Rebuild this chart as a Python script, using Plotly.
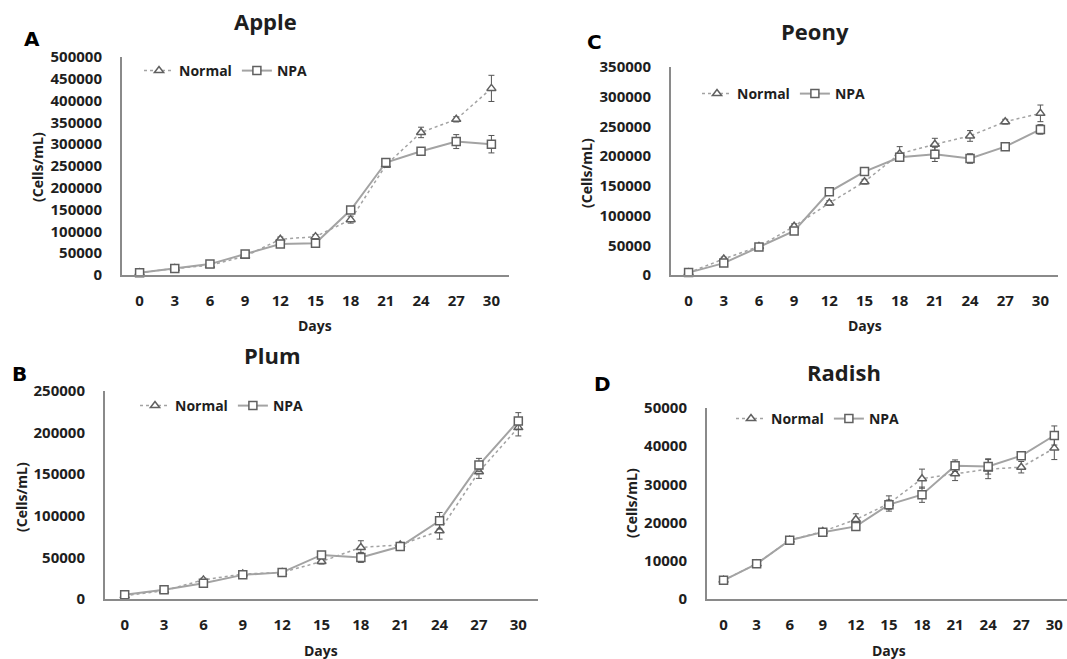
import plotly.graph_objects as go

W, H = 1067, 659

days = [0, 3, 6, 9, 12, 15, 18, 21, 24, 27, 30]

apple_normal = [5000, 15000, 22000, 43000, 82000, 88000, 127000, 252000, 327000, 357000, 428000]
apple_normal_err = [1000, 2000, 3000, 4000, 5000, 5000, 8000, 5000, 12000, 6000, 30000]
apple_npa = [5000, 15000, 25000, 48000, 71000, 73000, 149000, 258000, 284000, 306000, 300000]
apple_npa_err = [1000, 2000, 3000, 4000, 5000, 5000, 8000, 6000, 8000, 16000, 20000]

peony_normal = [4000, 27000, 48000, 82000, 121000, 157000, 204000, 220000, 234000, 258000, 272000]
peony_normal_err = [1000, 3000, 2000, 4000, 4000, 4000, 12000, 10000, 9000, 4000, 14000]
peony_npa = [4000, 20000, 47000, 74000, 140000, 174000, 198000, 203000, 196000, 216000, 245000]
peony_npa_err = [1000, 3000, 2000, 3000, 4000, 4000, 6000, 12000, 8000, 4000, 8000]

plum_normal = [4000, 10000, 23000, 30000, 32000, 45000, 62000, 65000, 82000, 153000, 206000]
plum_normal_err = [1000, 1500, 2000, 2000, 2000, 3000, 8000, 3000, 10000, 8000, 10000]
plum_npa = [5000, 11000, 19000, 29000, 32000, 53000, 50000, 63000, 94000, 161000, 214000]
plum_npa_err = [1000, 1500, 2000, 2000, 2000, 3000, 6000, 3000, 10000, 8000, 10000]

radish_normal = [4900, 9200, 15400, 17700, 20800, 25000, 31500, 32800, 34000, 34500, 39500]
radish_normal_err = [300, 400, 400, 500, 1500, 2000, 2500, 1800, 2500, 1500, 3000]
radish_npa = [4900, 9200, 15400, 17500, 19000, 24700, 27300, 34900, 34700, 37500, 42800]
radish_npa_err = [300, 400, 400, 500, 800, 1200, 2000, 1500, 2000, 800, 2500]

titles = ["Apple", "Peony", "Plum", "Radish"]
letters = ["A", "C", "B", "D"]
series_names = ["Normal", "NPA"]
y_max = [500000, 350000, 250000, 50000]
y_step = [50000, 50000, 50000, 10000]
x_title = "Days"
y_title = "(Cells/mL)"


def px(x):
    return x / W


def py(y):
    return 1 - y / H


# panel layout in pixels
panels = [
    dict(x0=122, x1=509, xr=31.5, yt=57, yb=275, title=(265, 21), letter=(32, 39), legend=(139, 71),
         ytitle=(38, 167), xtitle=(315, 325)),
    dict(x0=671, x1=1058, xr=31.5, yt=67, yb=275, title=(815, 31), letter=(594, 42), legend=(697, 94),
         ytitle=(587, 173), xtitle=(865, 325)),
    dict(x0=105, x1=538, xr=31.5, yt=391, yb=599, title=(272, 355), letter=(19, 374), legend=(135, 406),
         ytitle=(21, 497), xtitle=(321, 650)),
    dict(x0=707, x1=1067, xr=31.15, yt=408, yb=599, title=(844, 372), letter=(602, 384), legend=(731, 419),
         ytitle=(631, 503), xtitle=(889, 650)),
]

data = [
    (apple_normal, apple_normal_err, apple_npa, apple_npa_err),
    (peony_normal, peony_normal_err, peony_npa, peony_npa_err),
    (plum_normal, plum_normal_err, plum_npa, plum_npa_err),
    (radish_normal, radish_normal_err, radish_npa, radish_npa_err),
]

FONT = "Open Sans"
TXT = "#1e1e1e"
LINE = "#a3a3a3"
MARK = "#606060"
ERR = "#555555"

fig = go.Figure()
layout = dict(
    width=W, height=H,
    margin=dict(l=0, r=0, t=0, b=0, pad=0, autoexpand=False),
    paper_bgcolor="white", plot_bgcolor="white",
    font=dict(family=FONT, color=TXT, size=14),
    annotations=[],
    hovermode=False,
)

for i, (p, d) in enumerate(zip(panels, data)):
    n = i + 1
    xa = "x" if n == 1 else f"x{n}"
    ya = "y" if n == 1 else f"y{n}"
    lg = "legend" if n == 1 else f"legend{n}"
    nv, ne, av, ae = d
    fig.add_trace(go.Scatter(
        x=days, y=nv, name=series_names[0], mode="lines+markers",
        xaxis=xa, yaxis=ya, legend=lg, cliponaxis=False,
        line=dict(color=LINE, width=1.5, dash="dot"),
        marker=dict(symbol="triangle-up", size=8, color="white", line=dict(color=MARK, width=1.5)),
        error_y=dict(type="data", array=ne, color=ERR, thickness=1, width=3),
    ))
    fig.add_trace(go.Scatter(
        x=days, y=av, name=series_names[1], mode="lines+markers",
        xaxis=xa, yaxis=ya, legend=lg, cliponaxis=False,
        line=dict(color=LINE, width=2),
        marker=dict(symbol="square", size=8, color="white", line=dict(color=MARK, width=1.5)),
        error_y=dict(type="data", array=ae, color=ERR, thickness=1, width=3),
    ))
    xkey = "xaxis" if n == 1 else f"xaxis{n}"
    ykey = "yaxis" if n == 1 else f"yaxis{n}"
    layout[xkey] = dict(
        domain=[px(p["x0"]), px(p["x1"])], anchor=ya, automargin=False,
        range=[-1.5, p["xr"]], tickvals=days, ticktext=[str(v) for v in days],
        showgrid=False, zeroline=False, showline=True, linecolor="#8a8a8a", linewidth=2,
        ticks="", ticklabelstandoff=11,
        tickfont=dict(family=FONT, size=15, color=TXT, weight="bold"),
        fixedrange=True,
    )
    layout[ykey] = dict(
        domain=[py(p["yb"]), py(p["yt"])], anchor=xa, automargin=False,
        range=[0, y_max[i]], dtick=y_step[i], tick0=0, tickformat="d",
        showgrid=False, zeroline=False, showline=True, linecolor="#8a8a8a", linewidth=2,
        ticks="", ticklabelstandoff=15,
        tickfont=dict(family=FONT, size=15, color=TXT, weight="bold"),
        fixedrange=True,
    )
    layout[lg] = dict(
        x=px(p["legend"][0]), y=py(p["legend"][1]), xanchor="left", yanchor="middle",
        orientation="h", bgcolor="rgba(0,0,0,0)", borderwidth=0,
        font=dict(family=FONT, size=14, color=TXT, weight="bold"),
        itemwidth=30, tracegroupgap=0,
    )
    layout["annotations"] += [
        dict(text=titles[i], x=px(p["title"][0]), y=py(p["title"][1]), xref="paper", yref="paper",
             xanchor="center", yanchor="middle", showarrow=False,
             font=dict(family=FONT, size=22, color=TXT, weight="bold")),
        dict(text=letters[i], x=px(p["letter"][0]), y=py(p["letter"][1]), xref="paper", yref="paper",
             xanchor="center", yanchor="middle", showarrow=False,
             font=dict(family="DejaVu Sans", size=20, color="#000000", weight="bold")),
        dict(text=y_title, x=px(p["ytitle"][0]), y=py(p["ytitle"][1]), xref="paper", yref="paper",
             xanchor="center", yanchor="middle", showarrow=False, textangle=-90,
             font=dict(family=FONT, size=14, color=TXT, weight="bold")),
        dict(text=x_title, x=px(p["xtitle"][0]), y=py(p["xtitle"][1]), xref="paper", yref="paper",
             xanchor="center", yanchor="middle", showarrow=False,
             font=dict(family=FONT, size=14, color=TXT, weight="bold")),
    ]

fig.update_layout(**layout)
fig.write_html(
    "out.html",
    config={"displayModeBar": False, "staticPlot": True},
    post_script="document.body.style.margin='0';document.body.style.overflow='hidden';",
)
